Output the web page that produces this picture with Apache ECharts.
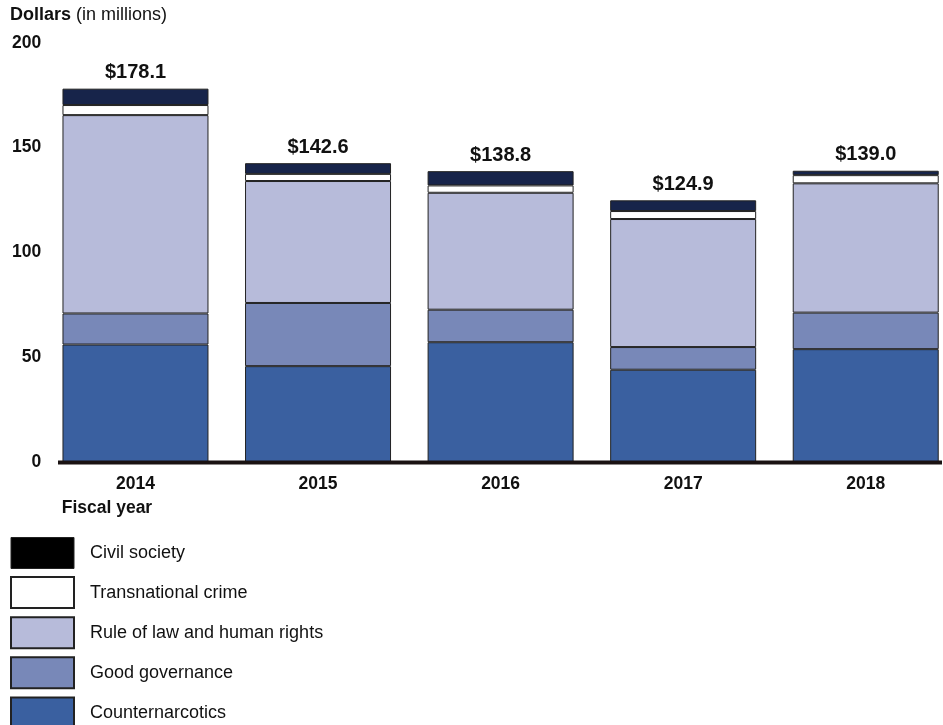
<!DOCTYPE html>
<html>
<head>
<meta charset="utf-8">
<script src="https://cdn.jsdelivr.net/npm/echarts@6/dist/echarts.min.js"></script>
<style>html,body{margin:0;padding:0;background:#fff;}#c{width:943px;height:725px;}</style>
</head>
<body>
<div id="c"></div>
<script>
var years = ['2014', '2015', '2016', '2017', '2018'];
var counternarcotics = [56.2, 45.9, 57.3, 44.2, 54.0];
var goodGovernance = [14.8, 30.1, 15.5, 10.8, 17.4];
var ruleOfLaw = [94.5, 58.1, 55.7, 61.0, 61.6];
var transnationalCrime = [4.8, 3.4, 3.5, 3.8, 3.9];
var civilSociety = [7.8, 5.1, 6.8, 5.1, 2.1];
var totals = ['$178.1', '$142.6', '$138.8', '$124.9', '$139.0'];
var yTicks = [0, 50, 100, 150, 200];

var font = 'Liberation Sans, Arial, sans-serif';
var border = {borderColor: '#222', borderWidth: 1};
function mk(name, data, color, extra) {
  var s = {
    name: name, type: 'bar', stack: 'total', data: data, barWidth: 146,
    itemStyle: Object.assign({color: color}, border),
    emphasis: {disabled: true}
  };
  return Object.assign(s, extra || {});
}

var chart = echarts.init(document.getElementById('c'));
chart.setOption({
  animation: false,
  backgroundColor: '#fff',
  textStyle: {fontFamily: font},
  title: {
    text: '{b|Dollars} (in millions)', left: 10, top: 6, padding: 0,
    textStyle: {fontSize: 18, fontWeight: 'normal', color: '#111', fontFamily: font,
      rich: {b: {fontWeight: 'bold', fontSize: 18, color: '#111', fontFamily: font}}}
  },
  grid: {left: 44.2, right: -14, top: 42.7, bottom: 262.5, outerBoundsMode: 'none'},
  xAxis: {
    type: 'category', data: years,
    axisLine: {show: false}, axisTick: {show: false},
    axisLabel: {fontWeight: 'bold', fontSize: 17.5, color: '#111', margin: 13, fontFamily: font},
    name: 'Fiscal year', nameLocation: 'start', nameGap: 0,
    nameTextStyle: {fontWeight: 'bold', fontSize: 17.5, color: '#111', fontFamily: font,
      align: 'left', verticalAlign: 'top', padding: [37, 0, 0, 17.5]}
  },
  yAxis: {
    type: 'value', min: 0, max: 200, interval: 50,
    axisLine: {show: false}, axisTick: {show: false}, splitLine: {show: false},
    axisLabel: {fontWeight: 'bold', fontSize: 17.5, color: '#111', margin: 3, fontFamily: font,
      formatter: function (v) { return yTicks.indexOf(v) >= 0 ? String(v) : ''; }}
  },
  legend: {
    orient: 'vertical', left: 10, top: 537, height: 400, padding: 0,
    itemWidth: 63, itemHeight: 31, itemGap: 7.1,
    icon: 'rect', selectedMode: false,
    textStyle: {fontSize: 18, color: '#111', fontFamily: font, padding: [0, 0, 0, 11]},
    data: [
      {name: 'Civil society', itemStyle: {color: '#000', borderColor: '#222', borderWidth: 1}},
      {name: 'Transnational crime'},
      {name: 'Rule of law and human rights'},
      {name: 'Good governance'},
      {name: 'Counternarcotics'}
    ]
  },
  graphic: [{
    type: 'rect', shape: {x: 58, y: 460.5, width: 884, height: 4},
    style: {fill: '#1a1212'}, z: 100
  }],
  series: [
    mk('Counternarcotics', counternarcotics, '#3a60a0'),
    mk('Good governance', goodGovernance, '#7888b8'),
    mk('Rule of law and human rights', ruleOfLaw, '#b7bbda'),
    mk('Transnational crime', transnationalCrime, '#ffffff'),
    mk('Civil society', civilSociety, '#17244a', {
      label: {show: true, position: 'top', distance: 6, fontWeight: 'bold', fontSize: 20,
        color: '#111', fontFamily: font,
        formatter: function (p) { return totals[p.dataIndex]; }}
    })
  ]
});
</script>
</body>
</html>
